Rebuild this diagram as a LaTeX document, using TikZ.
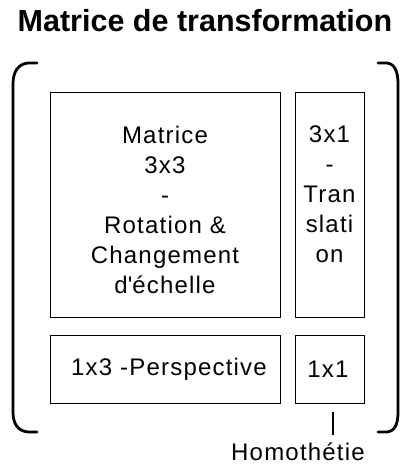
\documentclass[tikz,border=0pt]{standalone}
\usepackage{fontspec}
\setmainfont{Liberation Sans}
\begin{document}
\begin{tikzpicture}[x=1pt,y=-1pt,
  box/.style={draw=black, line width=1.4pt, inner sep=0pt, anchor=north west},
  txt/.style={inner sep=0pt, align=center, font=\fontsize{24}{30}\selectfont\addfontfeatures{LetterSpace=5}},
  heading/.style={inner sep=0pt, font=\fontsize{30.5}{36}\selectfont\bfseries},
  brace/.style={draw=black, line width=2.8pt, line cap=round}]
\useasboundingbox (0,0) rectangle (402,465);

% title
\node[heading, anchor=base] (title) at (205,32) {Matrice de transformation};

% matrix blocks
\node[box, minimum width=230, minimum height=225] (rot) at (50,92) {};
\node[box, minimum width=69, minimum height=225] (trans) at (295,92) {};
\node[box, minimum width=230, minimum height=68] (persp) at (50,335) {};
\node[box, minimum width=69, minimum height=68] (scal) at (295,335) {};

\node[txt, anchor=north] (rottxt) at (165,126) {Matrice\\3x3\\-\\Rotation \&\\Changement\\d\textquotesingle échelle};
\node[txt, anchor=north] (transtxt) at (329.5,126) {3x1\\-\\Tran\\slati\\on};
\node[txt] (persptxt) at (169,369) {1x3 -Perspective};
\node[txt] (scaltxt) at (328,369) {1x1};

% label below the 1x1 block
\node[txt, anchor=base] (homlab) at (298,460) {Homothétie};
\coordinate (tick) at (333,412);
\draw[line width=1.2pt] (tick) -- (tick |- 0,435);

% enclosing brackets
\draw[brace] (37,63) -- (28,63) .. controls (18,64) and (13,72) .. (13,84)
  -- (13,412) .. controls (13,424) and (18,431) .. (28,432) -- (37,432);
\draw[brace] (378,63) -- (387,63) .. controls (395,64) and (398,72) .. (398,84)
  -- (398,412) .. controls (398,424) and (395,431) .. (387,432) -- (378,432);
\end{tikzpicture}
\end{document}
